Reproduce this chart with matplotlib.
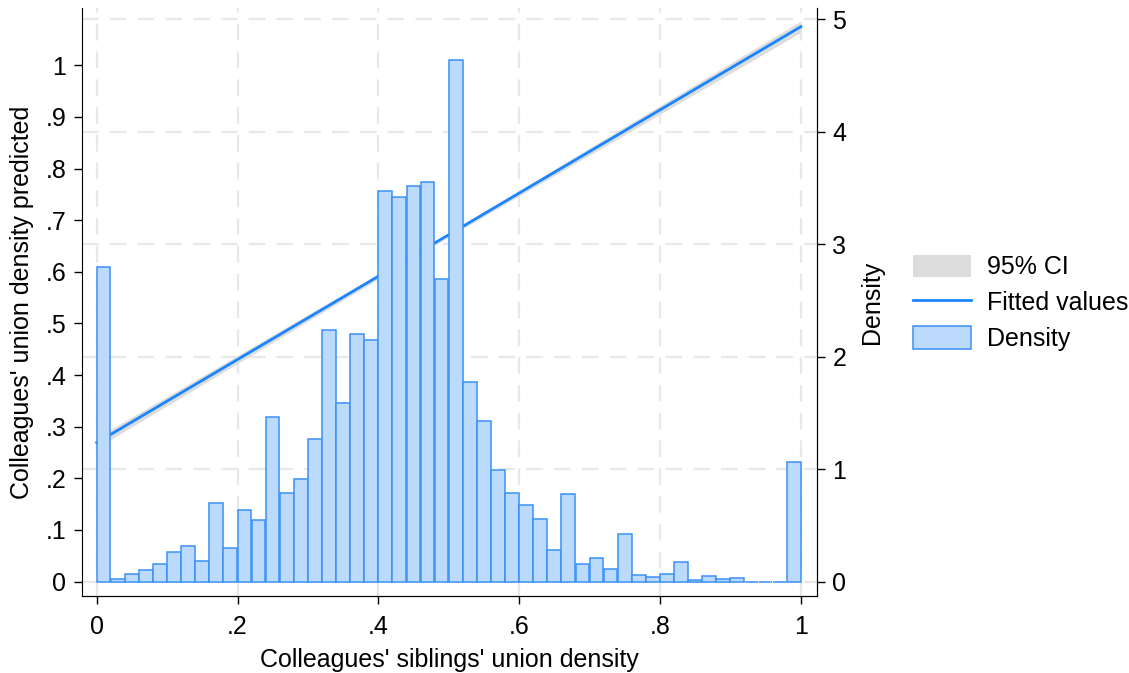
import matplotlib
matplotlib.use("Agg")
from matplotlib import pyplot as plt
from matplotlib.patches import Patch
from matplotlib.lines import Line2D
from matplotlib.transforms import blended_transform_factory
import numpy as np

# Histogram: 50 bins of width 0.02 on [0, 1], density scale (right axis)
bin_edges = np.linspace(0, 1, 51)
density = [2.80, 0.02, 0.07, 0.10, 0.16, 0.26, 0.32, 0.18, 0.70, 0.30,
           0.64, 0.55, 1.46, 0.79, 0.91, 1.27, 2.24, 1.59, 2.20, 2.15,
           3.47, 3.42, 3.52, 3.55, 2.69, 4.64, 1.77, 1.43, 0.99, 0.79,
           0.68, 0.56, 0.28, 0.78, 0.16, 0.21, 0.11, 0.42, 0.06, 0.04,
           0.07, 0.17, 0.01, 0.05, 0.02, 0.03, 0.0, 0.0, 0.0, 1.06]

# Fitted line with 95% CI (left axis)
fit_x = [0.0, 0.5, 1.0]
fit_y = [0.269, 0.672, 1.075]
ci_low = [0.259, 0.668, 1.064]
ci_high = [0.279, 0.676, 1.086]

left_ticks = [0, .1, .2, .3, .4, .5, .6, .7, .8, .9, 1]
left_labels = ["0", ".1", ".2", ".3", ".4", ".5", ".6", ".7", ".8", ".9", "1"]
x_ticks = [0, .2, .4, .6, .8, 1]
x_labels = ["0", ".2", ".4", ".6", ".8", "1"]
right_ticks = [0, 1, 2, 3, 4, 5]

blue = "#1a85ff"
bar_face = "#bbdafc"
bar_edge = "#3a91f6"
ci_color = "#dcdcdc"
grid_color = "#e8e8e8"

plt.rcParams['font.family'] = ['Liberation Sans', 'DejaVu Sans']
plt.rcParams['font.size'] = 18

fig = plt.figure(figsize=(11.29, 6.73), dpi=100)
ax = fig.add_axes([0.0722, 0.1144, 0.6515, 0.8736])
ax2 = ax.twinx()

ax.set_xlim(-0.0216, 1.023)
ax.set_ylim(-0.028, 1.111)
ax2.set_ylim(-0.129, 5.10)

# grid: vertical on x ticks, horizontal on density ticks
for xv in x_ticks:
    ax.axvline(xv, color=grid_color, lw=1.6, ls=(0, (7.5, 5)), zorder=0)
trans = blended_transform_factory(ax.transAxes, ax2.transData)
for d in right_ticks:
    ax.plot([0, 1], [d, d], transform=trans, color=grid_color, lw=1.6,
            ls=(0, (7.5, 5)), zorder=0)

ax.fill_between(fit_x, ci_low, ci_high, color=ci_color, lw=0, zorder=1)
ax.plot(fit_x, fit_y, color=blue, lw=2, zorder=2)

ax2.bar(bin_edges[:-1], density, width=0.0195, align='edge',
        color=bar_face, edgecolor=bar_edge, linewidth=1.1, zorder=3)

for a in (ax, ax2):
    a.spines['top'].set_visible(False)
    a.tick_params(direction='out', length=6, width=1, colors='black')
ax2.spines['left'].set_visible(False)

ax.set_xticks(x_ticks, x_labels)
ax.set_yticks(left_ticks, left_labels)
ax2.set_yticks(right_ticks, [str(t) for t in right_ticks])
ax.tick_params(axis='y', pad=5)
ax2.tick_params(axis='y', pad=5)
ax.tick_params(axis='x', pad=8)

ax.set_xlabel("Colleagues' siblings' union density", labelpad=6)
ax.set_ylabel("Colleagues' union density predicted", labelpad=8)
ax2.set_ylabel("Density", labelpad=10)

handles = [Patch(facecolor=ci_color, edgecolor='none'),
           Line2D([0], [0], color=blue, lw=2),
           Patch(facecolor=bar_face, edgecolor=bar_edge, linewidth=1.1)]
labels = ["95% CI", "Fitted values", "Density"]
fig.legend(handles, labels, loc='center left', bbox_to_anchor=(0.8087, 0.550),
           frameon=False, handlelength=2.3, handleheight=1.0, handletextpad=0.64,
           labelspacing=0.44, borderpad=0, borderaxespad=0)

fig.savefig("out.png", dpi=100)
